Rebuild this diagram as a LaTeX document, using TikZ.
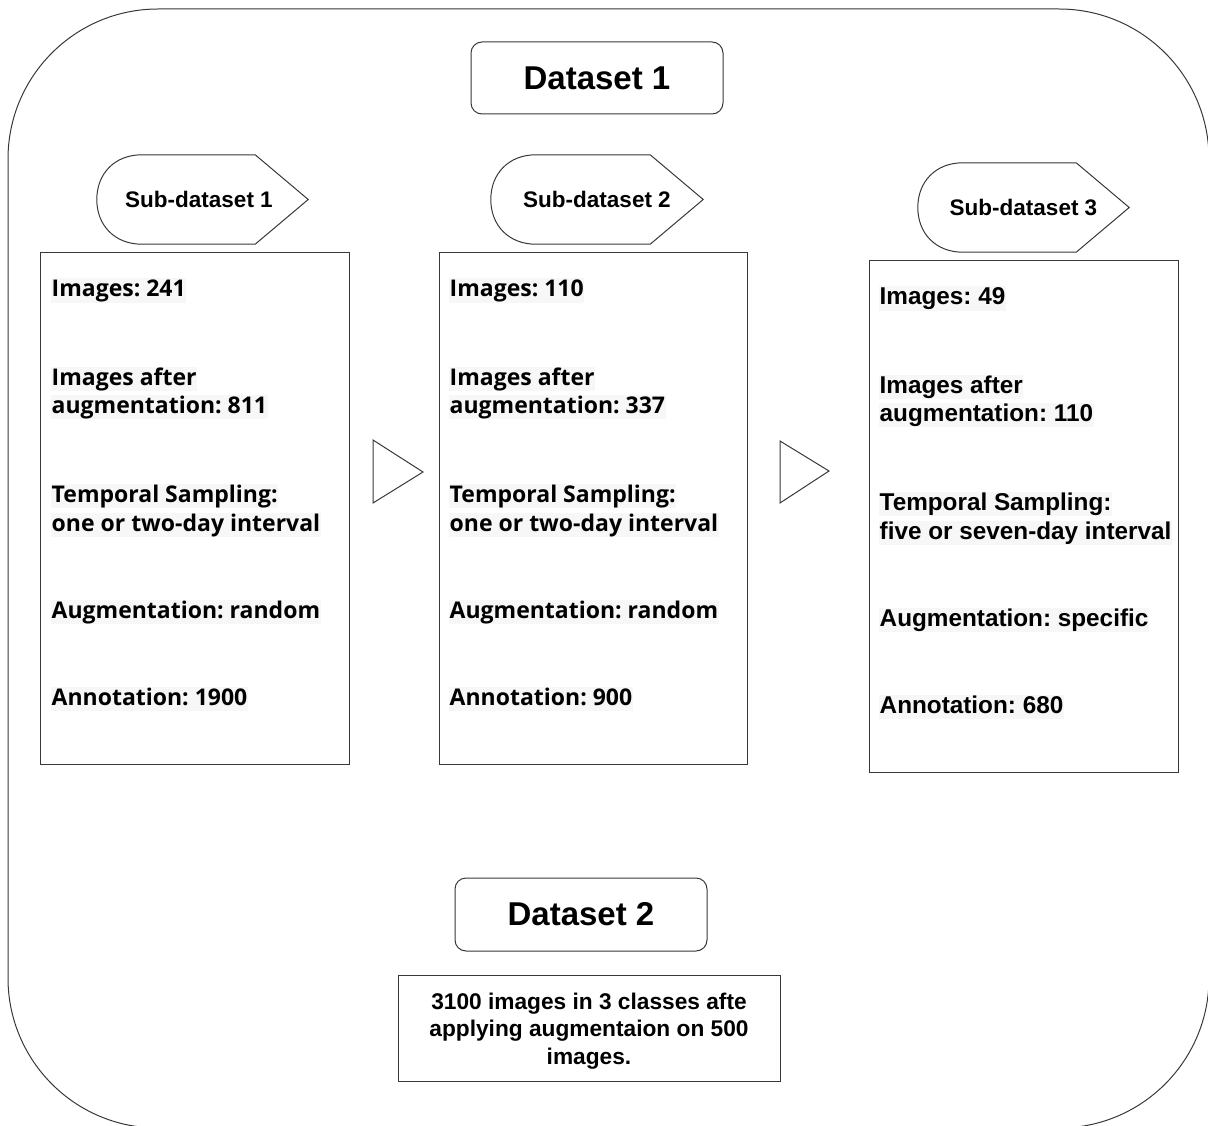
\documentclass[tikz,border=0pt]{standalone}
\usepackage{fontspec}
\setmainfont{Liberation Sans}
\newfontfamily\uifont{Open Sans}
\usetikzlibrary{calc}
\frenchspacing

\begin{document}
\begin{tikzpicture}[x=1pt,y=-1pt,
  edge/.style={draw=black!78, line width=1pt},
  framebox/.style={edge, rounded corners=150pt, inner sep=0pt},
  titlebox/.style={edge, rounded corners=11pt, minimum width=252pt, minimum height=72pt,
    font=\fontsize{33}{38}\selectfont\bfseries},
  infobox/.style={edge, minimum width=309pt, minimum height=511pt, inner sep=0pt},
  subshape/.style={minimum width=211pt, minimum height=89pt, inner sep=0pt,
    font=\fontsize{22.5}{27}\selectfont\bfseries},
  infoline/.style={anchor=base west, inner xsep=0.5pt, inner ysep=0pt,
    text height=18.5pt, text depth=6pt, fill=black!3},
  uiline/.style={infoline, font=\uifont\fontsize{23}{28}\selectfont\bfseries\frenchspacing},
  arline/.style={infoline, font=\fontsize{24.3}{29}\selectfont\bfseries\frenchspacing},
]
\useasboundingbox (0,0) rectangle (1208,1126);
\clip (0,0) rectangle (1208,1126);

% outer rounded frame
\node[framebox, minimum width=1201pt, minimum height=1119pt] (frame) at (608.5,568.5) {};

% titles
\node[titlebox] (ds1) at (597,78) {Dataset 1};
\node[titlebox, minimum height=73pt] (ds2) at (581,914.5) {Dataset 2};

% sub-dataset labels (display shapes)
\node[subshape] (s1) at (202.5,199.5) {};
\node[subshape, minimum width=212pt] (s2) at (597,199.5) {};
\node[subshape] (s3) at (1023.5,207.5) {};
\foreach \s in {s1,s2,s3}
  \draw[edge, line join=miter]
    ([xshift=45pt]\s.north west) -- ([xshift=-53pt]\s.north east) -- (\s.east)
    -- ([xshift=-53pt]\s.south east) -- ([xshift=45pt]\s.south west)
    .. controls +(-27,0) and +(0,26) .. (\s.west)
    .. controls +(0,-26) and +(-27,0) .. ([xshift=45pt]\s.north west);
\node[subshape, minimum width=0pt, minimum height=0pt] (s1t) at (199,199.5) {Sub-dataset 1};
\node[subshape, minimum width=0pt, minimum height=0pt] (s2t) at (597,199.5) {Sub-dataset 2};
\node[subshape, minimum width=0pt, minimum height=0pt] (s3t) at (1023.5,207.5) {Sub-dataset 3};

% information boxes
\node[infobox] (b1) at (194.5,508.5) {};
\node[infobox, minimum width=308pt] (b2) at (593,508.5) {};
\node[infobox] (b3) at (1023.5,516.5) {};

\foreach \t/\y [count=\i] in {Images: 241/297, Images after/385, augmentation: 811/413,
    Temporal Sampling:/502, one or two-day interval/531, Augmentation: random/618,
    Annotation: 1900/705}
  \node[uiline] (b1l\i) at (51,\y) {\t};

\foreach \t/\y [count=\i] in {Images: 110/297, Images after/385, augmentation: 337/413,
    Temporal Sampling:/502, one or two-day interval/531, Augmentation: random/618,
    Annotation: 900/705}
  \node[uiline] (b2l\i) at (449,\y) {\t};

\foreach \t/\y [count=\i] in {Images: 49/305, Images after/393, augmentation: 110/421,
    Temporal Sampling:/510, five or seven-day interval/539, Augmentation: specific/626,
    Annotation: 680/713}
  \node[arline] (b3l\i) at (879,\y) {\t};

% flow triangles between the boxes
\coordinate (t1a) at (373,440);
\coordinate (t1b) at (373,503);
\coordinate (t1c) at (423,472);
\coordinate (t2a) at (780,441);
\coordinate (t2b) at (780,503);
\coordinate (t2c) at (829,471);
\draw[edge, line join=miter] (t1a) -- (t1c) -- (t1b) -- cycle;
\draw[edge, line join=miter] (t2a) -- (t2c) -- (t2b) -- cycle;

% second dataset description
\node[edge, minimum width=382pt, minimum height=106pt] (b4) at (589,1028) {};
\node[align=center, inner sep=0pt, font=\fontsize{22.7}{27.5}\selectfont\bfseries] (t4) at (589,1031)
  {3100 images in 3 classes afte\\applying augmentaion on 500\\images.};
\end{tikzpicture}
\end{document}
